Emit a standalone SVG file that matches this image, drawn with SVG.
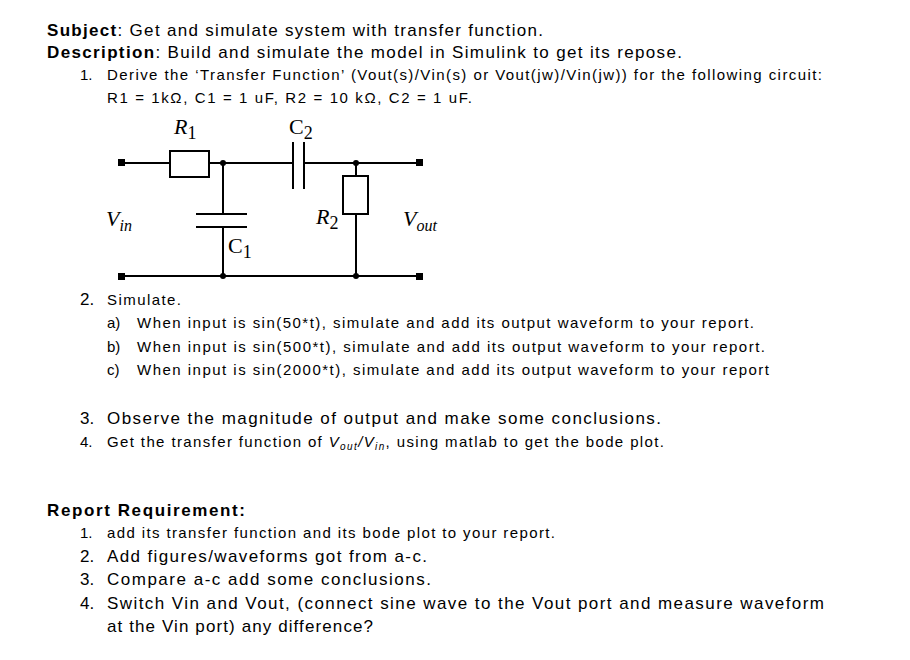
<svg xmlns="http://www.w3.org/2000/svg" width="910" height="660" viewBox="0 0 910 660">
<style>
text{font-family:"Liberation Sans",Arial,sans-serif;fill:#000}
.a{font-size:17px}.b{font-size:15px}
.s{font-family:"Liberation Serif","Times New Roman",serif;font-size:22px}
.w{stroke:#000;stroke-width:2;fill:none}
.bx{stroke:#000;stroke-width:2;fill:#fff}
</style>
<rect width="910" height="660" fill="#fff"/>
<text class="a" x="47" y="36" textLength="496" lengthAdjust="spacing"><tspan font-weight="bold">Subject</tspan>: Get and simulate system with transfer function.</text>
<text class="a" x="47" y="58" textLength="635" lengthAdjust="spacing"><tspan font-weight="bold">Description</tspan>: Build and simulate the model in Simulink to get its repose.</text>
<text class="b" x="80" y="80">1.</text>
<text class="b" x="107" y="80" textLength="715" lengthAdjust="spacing">Derive the ‘Transfer Function’ (Vout(s)/Vin(s) or Vout(jw)/Vin(jw)) for the following circuit:</text>
<text class="b" x="107" y="103" textLength="365" lengthAdjust="spacing">R1 = 1kΩ, C1 = 1 uF, R2 = 10 kΩ, C2 = 1 uF.</text>
<g id="circuit">
<g class="w">
<path d="M122 163H170M209 163H293M304 163H419"/>
<path d="M223 163V214M223 227V276"/>
<path d="M356 163V176M356 214V276"/>
<path d="M122 276H419"/>
<path d="M293 142V189M304 142V189"/>
<path d="M196 214H247M196 227H247"/>
</g>
<rect class="bx" x="170" y="151" width="39" height="26"/>
<rect class="bx" x="343" y="176" width="25" height="38"/>
<g fill="#000">
<rect x="118" y="159" width="7" height="7"/><rect x="416" y="159" width="7" height="7"/>
<rect x="118" y="273" width="7" height="7"/><rect x="416" y="273" width="7" height="7"/>
<circle cx="223" cy="163" r="3"/><circle cx="356" cy="163" r="3"/>
<circle cx="223" cy="276" r="3"/><circle cx="356" cy="276" r="3"/>
</g>
<text class="s" x="174" y="134" font-style="italic">R<tspan font-style="normal" font-size="18" dy="5">1</tspan></text>
<text class="s" x="289" y="134">C<tspan font-size="18" dy="5">2</tspan></text>
<text class="s" x="106" y="226" font-style="italic">V<tspan font-size="16" dy="5">in</tspan></text>
<text class="s" x="316" y="224" font-style="italic">R<tspan font-style="normal" font-size="18" dy="5">2</tspan></text>
<text class="s" x="228" y="253">C<tspan font-size="18" dy="5">1</tspan></text>
<text class="s" x="403" y="226" font-style="italic">V<tspan font-size="16" dy="5">out</tspan></text>
</g>
<text class="a" x="80" y="305">2.</text>
<text class="b" x="107" y="305" textLength="74" lengthAdjust="spacing">Simulate.</text>
<text class="b" x="107" y="328">a)</text><text class="b" x="137" y="328" textLength="617" lengthAdjust="spacing">When input is sin(50*t), simulate and add its output waveform to your report.</text>
<text class="b" x="107" y="352">b)</text><text class="b" x="137" y="352" textLength="628" lengthAdjust="spacing">When input is sin(500*t), simulate and add its output waveform to your report.</text>
<text class="b" x="107" y="375">c)</text><text class="b" x="137" y="375" textLength="632" lengthAdjust="spacing">When input is sin(2000*t), simulate and add its output waveform to your report</text>
<text class="a" x="80" y="424">3.</text><text class="a" x="107" y="424" textLength="554" lengthAdjust="spacing">Observe the magnitude of output and make some conclusions.</text>
<text class="b" x="80" y="447">4.</text><text class="b" x="107" y="447" textLength="557" lengthAdjust="spacing">Get the transfer function of <tspan font-style="italic">V<tspan font-size="10" dy="3">out</tspan><tspan dy="-3">/V</tspan><tspan font-size="10" dy="3">in</tspan></tspan><tspan dy="-3">, using matlab to get the bode plot.</tspan></text>
<text class="a" x="47" y="516" font-weight="bold" textLength="198" lengthAdjust="spacing">Report Requirement:</text>
<text class="b" x="80" y="538">1.</text><text class="b" x="107" y="538" textLength="448" lengthAdjust="spacing">add its transfer function and its bode plot to your report.</text>
<text class="a" x="80" y="562">2.</text><text class="a" x="107" y="562" textLength="320" lengthAdjust="spacing">Add figures/waveforms got from a-c.</text>
<text class="a" x="80" y="585">3.</text><text class="a" x="107" y="585" textLength="324" lengthAdjust="spacing">Compare a-c add some conclusions.</text>
<text class="a" x="80" y="609">4.</text><text class="a" x="107" y="609" textLength="717" lengthAdjust="spacing">Switch Vin and Vout, (connect sine wave to the Vout port and measure waveform</text>
<text class="a" x="107" y="632" textLength="266" lengthAdjust="spacing">at the Vin port) any difference?</text>
</svg>
